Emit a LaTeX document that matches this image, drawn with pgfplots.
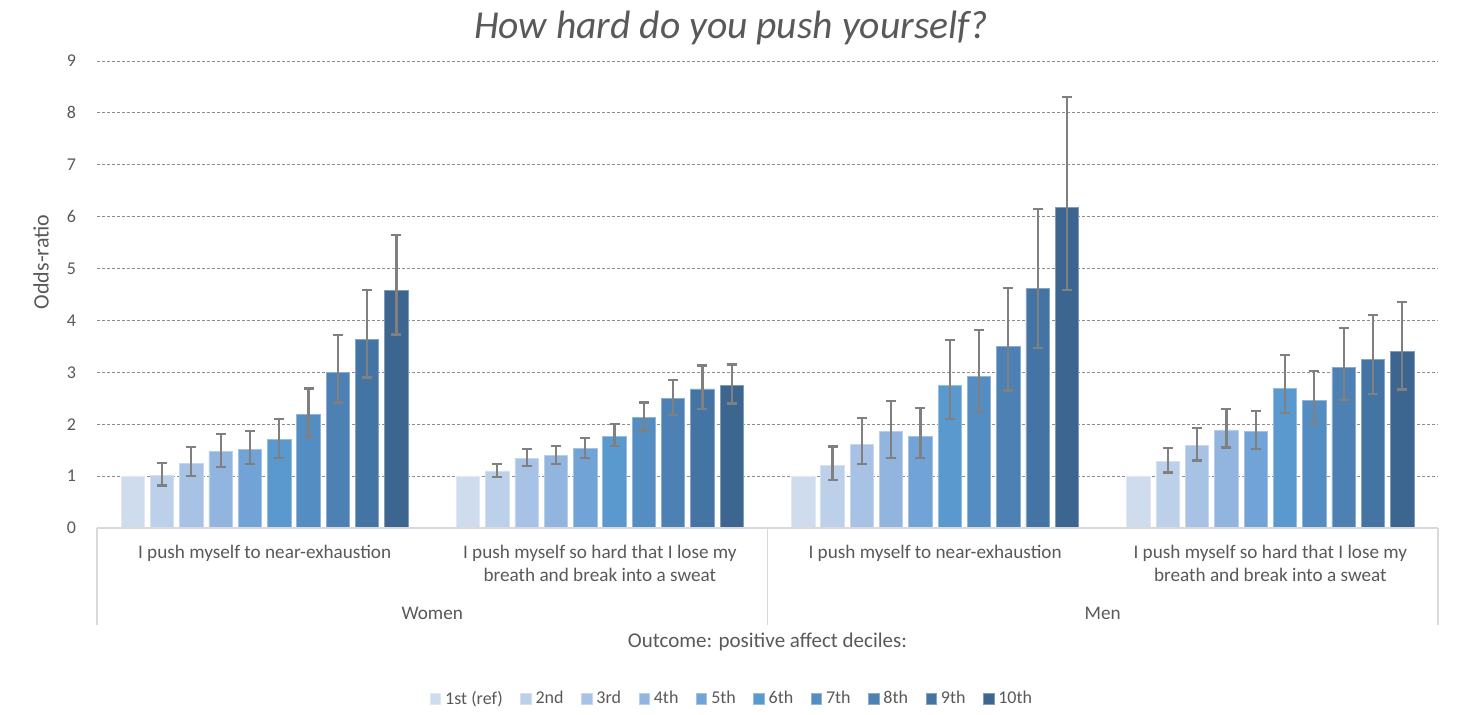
\documentclass[border=0pt]{standalone}
\usepackage{fontspec}
\setmainfont{Carlito}
\usepackage{pgfplots}
\pgfplotsset{compat=1.18}
\definecolor{txt}{HTML}{595959}
\definecolor{c1}{HTML}{CFDCEE}
\definecolor{c2}{HTML}{BDD0E9}
\definecolor{c3}{HTML}{A8C2E5}
\definecolor{c4}{HTML}{91B5DF}
\definecolor{c5}{HTML}{72A3D7}
\definecolor{c6}{HTML}{5A99CE}
\definecolor{c7}{HTML}{548DC2}
\definecolor{c8}{HTML}{4D80B3}
\definecolor{c9}{HTML}{4474A3}
\definecolor{c10}{HTML}{3C668F}
\definecolor{errc}{HTML}{808080}
\definecolor{axc}{HTML}{D9D9D9}
\pgfplotsset{
  bs/.style={fill=#1, draw=#1!65!white, line width=0.4pt}
}
\begin{document}
\begin{tikzpicture}
\useasboundingbox (-48.5pt,-93.5pt) rectangle (683pt,264pt);
\begin{axis}[
  at={(0,0)}, anchor=south west,
  scale only axis, width=670.5pt, height=233.5pt,
  xmin=-0.5, xmax=3.5, ymin=0, ymax=9,
  ybar=2.95pt, bar width=11.7pt,
  axis line style={draw=none},
  major tick length=0pt,
  ytick={0,1,...,9},
  ymajorgrids,
  grid style={draw=black!45, line width=0.5pt, dash pattern=on 1.5pt off 1pt},
  xtick={0,1,2,3},
  xticklabels={I push myself to near-exhaustion,
    {I push myself so hard that I lose my\\breath and break into a sweat},
    I push myself to near-exhaustion,
    {I push myself so hard that I lose my\\breath and break into a sweat}},
  xticklabel style={align=center, anchor=north, yshift=-5pt, font=\fontsize{9.6}{11.5}\selectfont, text=txt},
  yticklabel style={font=\fontsize{9}{11}\selectfont, text=txt, xshift=-7pt},
  /pgf/number format/assume math mode=true,
  error bars/y dir=both, error bars/y explicit,
  error bars/error bar style={draw=errc, line width=1.1pt},
  error bars/error mark options={draw=errc, line width=1.1pt, mark size=2.5pt, rotate=90},
  legend columns=10,
  legend style={at={(0.4743,0)}, anchor=center, yshift=-85.5pt, draw=none, fill=none,
    font=\fontsize{9}{11}\selectfont, text=txt,
    /tikz/every even column/.append style={column sep=6.8pt}},
  legend image code/.code={\fill[#1] (0pt,-2.6pt) rectangle (5.2pt,2.6pt);},
  clip=false,
]
\addplot[bs=c1, error bars/y dir=none] table[x=x,y=y] {
x y
0 1
1 1
2 1
3 1
};
\addplot[bs=c2] table[x=x,y=y,y error plus expr=\thisrow{hi}-\thisrow{y}, y error minus expr=\thisrow{y}-\thisrow{lo}] {
x y lo hi
0 1.02 0.82 1.26
1 1.10 0.98 1.23
2 1.21 0.93 1.57
3 1.28 1.07 1.54
};
\addplot[bs=c3] table[x=x,y=y,y error plus expr=\thisrow{hi}-\thisrow{y}, y error minus expr=\thisrow{y}-\thisrow{lo}] {
x y lo hi
0 1.25 1.00 1.56
1 1.34 1.20 1.52
2 1.61 1.24 2.12
3 1.59 1.30 1.93
};
\addplot[bs=c4] table[x=x,y=y,y error plus expr=\thisrow{hi}-\thisrow{y}, y error minus expr=\thisrow{y}-\thisrow{lo}] {
x y lo hi
0 1.47 1.17 1.81
1 1.39 1.23 1.58
2 1.86 1.35 2.44
3 1.89 1.55 2.30
};
\addplot[bs=c5] table[x=x,y=y,y error plus expr=\thisrow{hi}-\thisrow{y}, y error minus expr=\thisrow{y}-\thisrow{lo}] {
x y lo hi
0 1.52 1.23 1.87
1 1.53 1.35 1.73
2 1.77 1.35 2.32
3 1.86 1.53 2.26
};
\addplot[bs=c6] table[x=x,y=y,y error plus expr=\thisrow{hi}-\thisrow{y}, y error minus expr=\thisrow{y}-\thisrow{lo}] {
x y lo hi
0 1.70 1.35 2.10
1 1.76 1.58 2.01
2 2.75 2.10 3.63
3 2.69 2.21 3.33
};
\addplot[bs=c7] table[x=x,y=y,y error plus expr=\thisrow{hi}-\thisrow{y}, y error minus expr=\thisrow{y}-\thisrow{lo}] {
x y lo hi
0 2.19 1.76 2.69
1 2.13 1.88 2.42
2 2.92 2.24 3.81
3 2.45 2.00 3.02
};
\addplot[bs=c8] table[x=x,y=y,y error plus expr=\thisrow{hi}-\thisrow{y}, y error minus expr=\thisrow{y}-\thisrow{lo}] {
x y lo hi
0 3.00 2.42 3.72
1 2.49 2.18 2.85
2 3.50 2.65 4.62
3 3.10 2.47 3.86
};
\addplot[bs=c9] table[x=x,y=y,y error plus expr=\thisrow{hi}-\thisrow{y}, y error minus expr=\thisrow{y}-\thisrow{lo}] {
x y lo hi
0 3.64 2.90 4.58
1 2.68 2.29 3.13
2 4.61 3.47 6.15
3 3.25 2.59 4.11
};
\addplot[bs=c10] table[x=x,y=y,y error plus expr=\thisrow{hi}-\thisrow{y}, y error minus expr=\thisrow{y}-\thisrow{lo}] {
x y lo hi
0 4.58 3.73 5.65
1 2.74 2.40 3.15
2 6.18 4.59 8.30
3 3.40 2.67 4.36
};
\legend{1st (ref),2nd,3rd,4th,5th,6th,7th,8th,9th,10th}
\draw[axc, line width=1pt] (rel axis cs:0,0) -- (rel axis cs:1,0);
\draw[axc, line width=0.8pt] (rel axis cs:0,0) -- ++(0pt,-48.5pt);
\draw[axc, line width=0.8pt] (rel axis cs:0.5,0) -- ++(0pt,-48.5pt);
\draw[axc, line width=0.8pt] (rel axis cs:1,0) -- ++(0pt,-48.5pt);
\node[font=\fontsize{9.6}{11.5}\selectfont, text=txt, yshift=-42.5pt] at (rel axis cs:0.25,0) {Women};
\node[font=\fontsize{9.6}{11.5}\selectfont, text=txt, yshift=-42.5pt] at (rel axis cs:0.75,0) {Men};
\node[font=\fontsize{10.5}{12.5}\selectfont, text=txt, yshift=-57pt] at (rel axis cs:0.5,0) {Outcome: positive affect deciles:};
\node[font=\itshape\fontsize{19.8}{23}\selectfont, text=txt, yshift=16.5pt] at (rel axis cs:0.4728,1) {How hard do you push yourself?};
\end{axis}
\node[font=\fontsize{11}{13}\selectfont, text=txt, rotate=90] at (-28pt,133pt) {Odds-ratio};
\end{tikzpicture}
\end{document}
